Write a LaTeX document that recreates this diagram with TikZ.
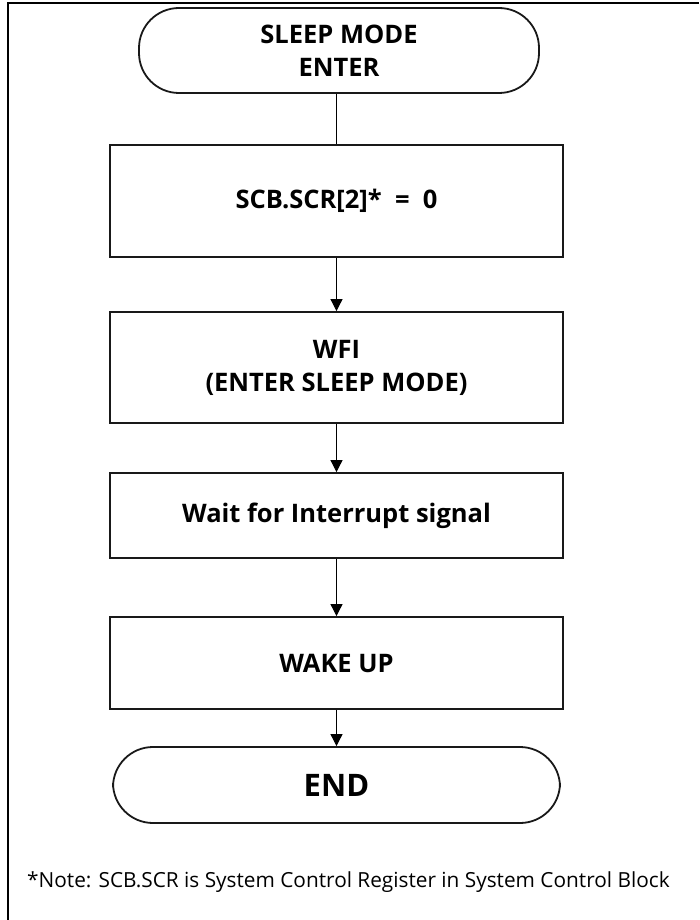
\documentclass[tikz,border=0pt]{standalone}
\usepackage{fontspec}
\setmainfont{Open Sans}
\usetikzlibrary{arrows.meta}

\tikzset{
  stepbox/.style={draw=black!90, line width=1.8pt, minimum width=453pt, inner sep=0pt,
    align=center, font=\bfseries\fontsize{25.5}{33}\selectfont},
  termbox/.style={stepbox, rounded corners=40pt},
  flow/.style={draw=black, line width=0.8pt},
  flowarrow/.style={flow, -{Triangle[width=12pt,length=12pt]}},
}

\begin{document}
\begin{tikzpicture}[x=1pt, y=-1pt]
  \useasboundingbox (0,0) rectangle (699,920);

  % frame edges
  \draw[line width=2pt] (8,920) -- (8,3) -- (699,3);

  % flow chart
  \node[termbox, minimum width=400pt, minimum height=85pt] (start) at (339,50.5)
    {SLEEP MODE\\ENTER};
  \node[stepbox, minimum height=112pt] (clr) at (336.5,201) {SCB.SCR[2]*\ \ =\ \ 0};
  \node[stepbox, minimum height=111pt] (wfi) at (336.5,367.5) {WFI\\(ENTER SLEEP MODE)};
  \node[stepbox, minimum height=85pt] (wait) at (336.5,515.5) {Wait for Interrupt signal};
  \node[stepbox, minimum height=92pt] (wake) at (336.5,663) {WAKE UP};
  \node[termbox, minimum width=447pt, minimum height=76pt,
        font=\bfseries\fontsize{31}{36}\selectfont] (end) at (336.5,785) {END};

  \draw[flow] (start.south -| clr.north) -- (clr.north);
  \draw[flowarrow] (clr) -- (wfi);
  \draw[flowarrow] (wfi) -- (wait);
  \draw[flowarrow] (wait) -- (wake);
  \draw[flowarrow] (wake.south) -- (end.north -| wake.south);

  % footnote
  \node[anchor=west, inner sep=0pt, font=\fontsize{20.8}{24}\selectfont] (note) at (27,882)
    {*Note: SCB.SCR is System Control Register in System Control Block};
\end{tikzpicture}
\end{document}
